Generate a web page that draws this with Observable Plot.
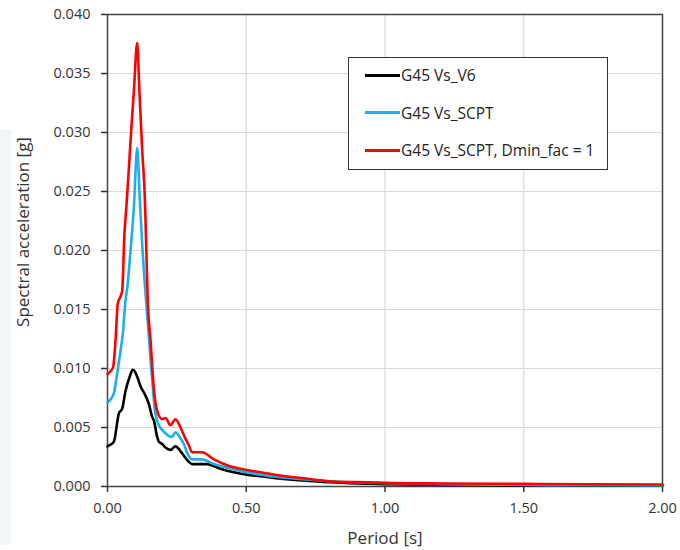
<!DOCTYPE html>
<html>
<head>
<meta charset="utf-8">
<script src="https://cdn.jsdelivr.net/npm/d3@7"></script>
<script src="https://cdn.jsdelivr.net/npm/@observablehq/plot@0.6"></script>
<style>
  body { margin: 0; background: #fff; font-family: "Open Sans", "Noto Sans", sans-serif; }
  #wrap { position: relative; width: 680px; height: 550px; }
  #panel { position: absolute; left: 0; top: 130px; width: 11px; height: 415px; background: #f1f4f9; }
  #legend { position: absolute; left: 348px; top: 57px; width: 260px; height: 113px; border: 1.5px solid #333; background: #fff; box-sizing: border-box; font-size: 15.5px; color: #222; }
  #legend .row { position: absolute; left: 16px; display: flex; align-items: center; height: 22px; }
  #legend .sw { width: 35px; height: 3px; margin-right: 1px; }
  .axlabel { position: absolute; font-size: 17px; color: #333; white-space: nowrap; }
  #xlabel { left: 385px; top: 537px; transform: translate(-50%, -50%); }
  #ylabel { left: 22px; top: 232px; transform: translate(-50%, -50%) rotate(-90deg); }
</style>
</head>
<body>
<div id="wrap">
  <div id="panel"></div>
  <div id="chart"></div>
  <div id="legend"></div>
  <div class="axlabel" id="xlabel"></div>
  <div class="axlabel" id="ylabel"></div>
</div>
<script>
// Period [s] and spectral acceleration [g]
const xTitle = "Period [s]";
const yTitle = "Spectral acceleration [g]";
const seriesNames = ["G45 Vs_V6", "G45 Vs_SCPT", "G45 Vs_SCPT, Dmin_fac = 1"];
const seriesColors = ["#000000", "#1cb0e6", "#ff0000"];

const v6T = [0, 0.008, 0.023, 0.041, 0.053, 0.065, 0.08, 0.091, 0.1, 0.107, 0.119, 0.137, 0.149, 0.161, 0.167, 0.179, 0.185, 0.197, 0.209, 0.227, 0.245, 0.269, 0.293, 0.305, 0.33, 0.359, 0.407, 0.455, 0.503, 0.551, 0.6, 0.7, 0.8, 0.9, 1.0, 1.2, 1.4, 1.6, 1.8, 2.0];
const v6Sa = [0.0034, 0.0035, 0.0038, 0.0062, 0.0066, 0.0081, 0.0093, 0.0099, 0.0097, 0.0093, 0.0085, 0.0077, 0.0070, 0.0059, 0.0056, 0.0042, 0.0038, 0.0036, 0.0033, 0.0031, 0.0034, 0.0028, 0.0021, 0.0019, 0.0019, 0.0019, 0.0015, 0.0012, 0.0010, 0.00087, 0.00072, 0.00052, 0.00036, 0.00026, 0.0002, 0.00014, 0.0001, 0.00008, 0.00007, 0.00006];

const scptT = [0, 0.008, 0.023, 0.035, 0.047, 0.055, 0.065, 0.071, 0.083, 0.095, 0.107, 0.116, 0.125, 0.135, 0.145, 0.155, 0.163, 0.17, 0.18, 0.19, 0.205, 0.22, 0.232, 0.245, 0.26, 0.275, 0.29, 0.305, 0.34, 0.383, 0.431, 0.503, 0.551, 0.6, 0.7, 0.8, 0.9, 1.0, 1.2, 1.4, 1.6, 1.8, 2.0];
const scptSa = [0.0071, 0.0073, 0.0079, 0.0096, 0.0115, 0.0129, 0.0158, 0.0168, 0.0200, 0.0236, 0.0287, 0.0245, 0.0205, 0.0170, 0.0140, 0.0108, 0.0085, 0.0066, 0.0055, 0.0050, 0.0046, 0.0043, 0.0042, 0.0046, 0.0042, 0.0036, 0.0027, 0.0023, 0.0023, 0.0019, 0.0016, 0.0012, 0.0010, 0.00085, 0.00062, 0.00045, 0.00034, 0.00028, 0.0002, 0.00015, 0.00012, 0.0001, 0.00009];

const dminT = [0, 0.008, 0.02, 0.029, 0.037, 0.045, 0.053, 0.061, 0.068, 0.075, 0.085, 0.095, 0.107, 0.115, 0.125, 0.135, 0.14, 0.145, 0.155, 0.167, 0.179, 0.197, 0.209, 0.227, 0.245, 0.263, 0.28, 0.293, 0.305, 0.341, 0.383, 0.431, 0.503, 0.551, 0.62, 0.7, 0.8, 0.9, 1.0, 1.2, 1.5, 1.75, 2.0];
const dminSa = [0.0095, 0.0097, 0.0101, 0.0124, 0.0155, 0.0160, 0.0166, 0.0214, 0.0237, 0.0262, 0.0300, 0.0335, 0.0376, 0.0335, 0.0285, 0.0242, 0.0200, 0.0158, 0.0124, 0.0083, 0.0064, 0.0057, 0.0058, 0.0052, 0.0057, 0.0050, 0.0041, 0.0035, 0.0029, 0.0029, 0.0023, 0.0018, 0.0014, 0.0012, 0.00093, 0.00072, 0.00045, 0.00037, 0.00031, 0.00026, 0.00022, 0.00019, 0.00017];

const xTicks = [0, 0.5, 1.0, 1.5, 2.0];
const yTicks = [0, 0.005, 0.010, 0.015, 0.020, 0.025, 0.030, 0.035, 0.040];

const toRows = (ts, vs, name) => ts.map((t, i) => ({t, sa: vs[i], series: name}));
const rows = [
  ...toRows(v6T, v6Sa, seriesNames[0]),
  ...toRows(scptT, scptSa, seriesNames[1]),
  ...toRows(dminT, dminSa, seriesNames[2])
];

const chart = Plot.plot({
  width: 680,
  height: 550,
  marginLeft: 107,
  marginRight: 18,
  marginTop: 14,
  marginBottom: 64,
  style: {fontFamily: "'Open Sans', 'Noto Sans', sans-serif", fontSize: "14px", color: "#333", background: "transparent"},
  x: {domain: [0, 2], ticks: xTicks},
  y: {domain: [0, 0.04], ticks: yTicks},
  color: {domain: seriesNames, range: seriesColors},
  marks: [
    Plot.gridY(yTicks, {stroke: "#d9d9d9", strokeOpacity: 1, strokeWidth: 1.2}),
    Plot.gridX(xTicks.slice(1, -1), {stroke: "#d9d9d9", strokeOpacity: 1, strokeWidth: 1.2}),
    Plot.frame({stroke: "#444", strokeWidth: 1.5}),
    Plot.axisX(xTicks, {tickFormat: d3.format(".2f"), tickSize: 6, tickPadding: 10, stroke: "#333", strokeWidth: 1.5, label: null, fontSize: 14.5}),
    Plot.axisY(yTicks, {tickFormat: d3.format(".3f"), tickSize: 6, tickPadding: 11, stroke: "#333", strokeWidth: 1.5, label: null, fontSize: 14.5}),
    Plot.line(rows, {x: "t", y: "sa", z: "series", stroke: "series", strokeWidth: 2.6, curve: "monotone-x"})
  ]
});
document.getElementById("chart").appendChild(chart);
document.getElementById("xlabel").textContent = xTitle;
document.getElementById("ylabel").textContent = yTitle;

const legend = document.getElementById("legend");
seriesNames.forEach((name, i) => {
  const row = document.createElement("div");
  row.className = "row";
  row.style.top = (6 + i * 37.5) + "px";
  row.innerHTML = `<div class="sw" style="background:${seriesColors[i]}"></div><span>${name}</span>`;
  legend.appendChild(row);
});
</script>
</body>
</html>
